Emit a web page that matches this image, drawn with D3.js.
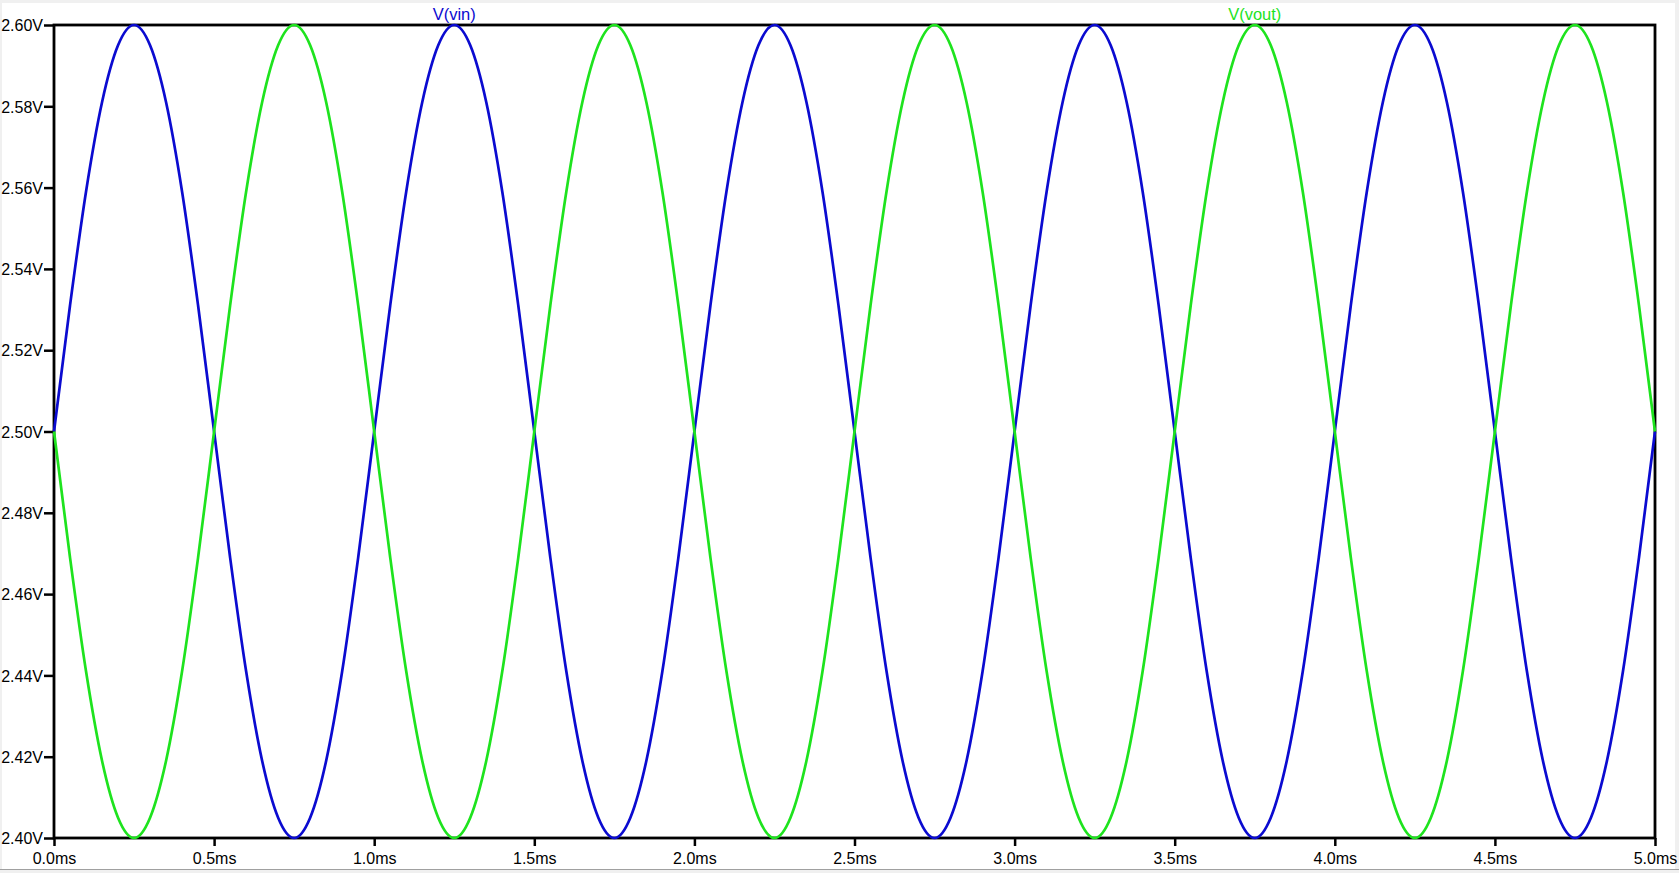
<!DOCTYPE html>
<html><head><meta charset="utf-8">
<script src="https://cdn.jsdelivr.net/npm/d3@7"></script>
<style>
html,body{margin:0;padding:0;background:#fff;overflow:hidden;}
svg{display:block;}
text{font-family:"Liberation Sans",Arial,sans-serif;}
</style></head>
<body>
<script>
// time samples (ms)
const timeMs = [0.00,0.05,0.10,0.15,0.20,0.25,0.30,0.35,0.40,0.45,0.50,0.55,0.60,0.65,0.70,0.75,0.80,0.85,0.90,0.95,
1.00,1.05,1.10,1.15,1.20,1.25,1.30,1.35,1.40,1.45,1.50,1.55,1.60,1.65,1.70,1.75,1.80,1.85,1.90,1.95,
2.00,2.05,2.10,2.15,2.20,2.25,2.30,2.35,2.40,2.45,2.50,2.55,2.60,2.65,2.70,2.75,2.80,2.85,2.90,2.95,
3.00,3.05,3.10,3.15,3.20,3.25,3.30,3.35,3.40,3.45,3.50,3.55,3.60,3.65,3.70,3.75,3.80,3.85,3.90,3.95,
4.00,4.05,4.10,4.15,4.20,4.25,4.30,4.35,4.40,4.45,4.50,4.55,4.60,4.65,4.70,4.75,4.80,4.85,4.90,4.95,5.00];
// V(vin) values (V)
const vin = [2.500,2.531,2.559,2.581,2.595,2.600,2.595,2.581,2.559,2.531,2.500,2.469,2.441,2.419,2.405,2.400,2.405,2.419,2.441,2.469,
2.500,2.531,2.559,2.581,2.595,2.600,2.595,2.581,2.559,2.531,2.500,2.469,2.441,2.419,2.405,2.400,2.405,2.419,2.441,2.469,
2.500,2.531,2.559,2.581,2.595,2.600,2.595,2.581,2.559,2.531,2.500,2.469,2.441,2.419,2.405,2.400,2.405,2.419,2.441,2.469,
2.500,2.531,2.559,2.581,2.595,2.600,2.595,2.581,2.559,2.531,2.500,2.469,2.441,2.419,2.405,2.400,2.405,2.419,2.441,2.469,
2.500,2.531,2.559,2.581,2.595,2.600,2.595,2.581,2.559,2.531,2.500,2.469,2.441,2.419,2.405,2.400,2.405,2.419,2.441,2.469,2.500];
// V(vout) values (V)
const vout = [2.500,2.469,2.441,2.419,2.405,2.400,2.405,2.419,2.441,2.469,2.500,2.531,2.559,2.581,2.595,2.600,2.595,2.581,2.559,2.531,
2.500,2.469,2.441,2.419,2.405,2.400,2.405,2.419,2.441,2.469,2.500,2.531,2.559,2.581,2.595,2.600,2.595,2.581,2.559,2.531,
2.500,2.469,2.441,2.419,2.405,2.400,2.405,2.419,2.441,2.469,2.500,2.531,2.559,2.581,2.595,2.600,2.595,2.581,2.559,2.531,
2.500,2.469,2.441,2.419,2.405,2.400,2.405,2.419,2.441,2.469,2.500,2.531,2.559,2.581,2.595,2.600,2.595,2.581,2.559,2.531,
2.500,2.469,2.441,2.419,2.405,2.400,2.405,2.419,2.441,2.469,2.500,2.531,2.559,2.581,2.595,2.600,2.595,2.581,2.559,2.531,2.500];
const seriesNames = ["V(vin)","V(vout)"];
const seriesLabelAt = [1.25, 3.75];
const xTicks = [0.0,0.5,1.0,1.5,2.0,2.5,3.0,3.5,4.0,4.5,5.0];
const yTicks = [2.40,2.42,2.44,2.46,2.48,2.50,2.52,2.54,2.56,2.58,2.60];

const W = 1679, H = 873;
const m = {left:54, right:1655, top:25, bottom:838};
const colors = ["#0b0bd0", "#1ee31e"];

const svg = d3.select("body").append("svg").attr("width", W).attr("height", H);

// window frame
svg.append("rect").attr("x",0).attr("y",0).attr("width",W).attr("height",H).attr("fill","#f0f0f0");
svg.append("rect").attr("x",2).attr("y",3).attr("width",W-6).attr("height",H-6).attr("fill","#fff");
svg.append("line").attr("x1",0).attr("x2",W).attr("y1",H-3.5).attr("y2",H-3.5).attr("stroke","#a0a0a0").attr("stroke-width",1);

const x = d3.scaleLinear().domain([0,5]).range([m.left, m.right]);
const y = d3.scaleLinear().domain([2.40,2.60]).range([m.bottom, m.top]);

const yAxis = d3.axisLeft(y).tickValues(yTicks).tickSize(10).tickPadding(1).tickFormat(d => d3.format(".2f")(d) + "V");
const gy = svg.append("g").attr("transform", `translate(${m.left},0)`).call(yAxis);
gy.select(".domain").remove();
gy.selectAll(".tick line").attr("stroke","#000").attr("stroke-width",2.5);
gy.selectAll(".tick text").attr("fill","#000").style("font-size","16px").attr("dy","0.36em");

const xAxis = d3.axisBottom(x).tickValues(xTicks).tickSize(8).tickPadding(7).tickFormat(d => d3.format(".1f")(d) + "ms");
const gx = svg.append("g").attr("transform", `translate(0,${m.bottom})`).call(xAxis);
gx.select(".domain").remove();
gx.selectAll(".tick line").attr("stroke","#000").attr("stroke-width",2.5);
gx.selectAll(".tick text").attr("fill","#000").style("font-size","16px").attr("dy","0.66em");

// plot box
svg.append("rect").attr("x",m.left).attr("y",m.top).attr("width",m.right-m.left).attr("height",m.bottom-m.top)
  .attr("fill","none").attr("stroke","#000").attr("stroke-width",2.8);

const line = d3.line().x((d,i)=>x(timeMs[i])).y(d=>y(d)).curve(d3.curveMonotoneX);
[vin, vout].forEach((s, k) => {
  svg.append("path").datum(s).attr("d", line).attr("fill","none")
    .attr("stroke", colors[k]).attr("stroke-width", 2.7).attr("stroke-linejoin","round");
});

seriesNames.forEach((n,k) => {
  svg.append("text").attr("x", x(seriesLabelAt[k])).attr("y", 20).attr("text-anchor","middle")
    .attr("fill", colors[k]).style("font-size","16.5px").text(n);
});
</script>
</body></html>
